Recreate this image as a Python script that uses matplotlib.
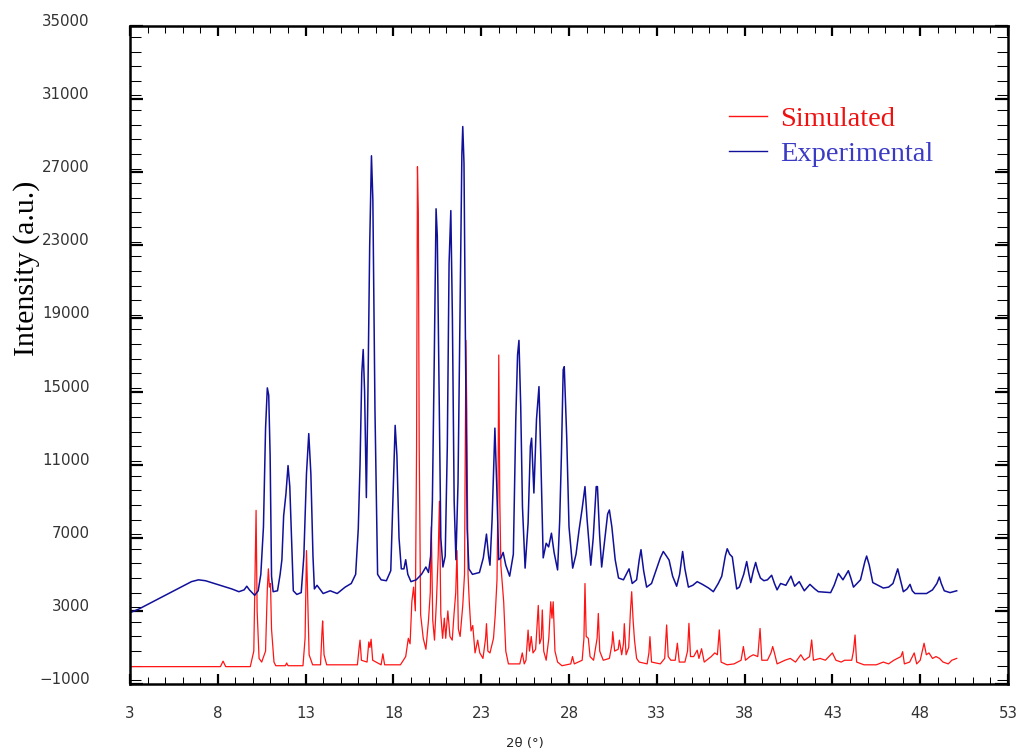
import matplotlib
matplotlib.use('Agg')
import matplotlib.pyplot as plt
from matplotlib.ticker import MultipleLocator

# simulated pattern (2theta in degrees, counts)
sim_2theta = [3.0, 8.15, 8.3, 8.45, 9.85, 10.05, 10.12, 10.18, 10.24, 10.35, 10.5, 10.72, 10.82, 10.88, 10.94, 11.0, 11.06,
              11.2, 11.3, 11.85, 11.92, 12.0, 12.85, 12.97, 13.05, 13.1, 13.2, 13.4, 13.85, 13.93, 13.97, 14.05, 14.2,
              15.95, 16.05, 16.1, 16.18, 16.5, 16.6, 16.66, 16.73, 16.82, 17.3, 17.4, 17.5, 18.4, 18.7, 18.85, 18.95,
              19.05, 19.15, 19.25, 19.32, 19.37, 19.42, 19.47, 19.55, 19.7, 19.85, 20.0, 20.1, 20.16, 20.24, 20.34,
              20.45, 20.55, 20.62, 20.7, 20.8, 20.9, 20.98, 21.1, 21.22, 21.35, 21.45, 21.55, 21.62, 21.7, 21.8, 21.95,
              22.05, 22.13, 22.18, 22.25, 22.32, 22.42, 22.52, 22.65, 22.8, 22.92, 23.1, 23.25, 23.3, 23.38, 23.5,
              23.7, 23.8, 23.9, 23.96, 24.0, 24.06, 24.12, 24.2, 24.28, 24.4, 24.55, 25.2, 25.34, 25.45, 25.55, 25.67,
              25.75, 25.85, 25.95, 26.1, 26.25, 26.33, 26.42, 26.48, 26.56, 26.7, 26.85, 26.96, 27.03, 27.1, 27.2,
              27.35, 27.6, 28.1, 28.2, 28.3, 28.75, 28.85, 28.91, 28.98, 29.1, 29.2, 29.4, 29.6, 29.67, 29.75, 29.95,
              30.3, 30.45, 30.49, 30.6, 30.8, 30.87, 31.0, 31.1, 31.15, 31.25, 31.4, 31.5, 31.57, 31.65, 31.73, 31.85,
              32.0, 32.45, 32.55, 32.61, 32.7, 33.2, 33.45, 33.56, 33.65, 33.8, 34.05, 34.17, 34.28, 34.6, 34.75,
              34.83, 34.92, 35.1, 35.3, 35.4, 35.55, 35.7, 36.1, 36.3, 36.45, 36.56, 36.66, 37.0, 37.4, 37.8, 37.93,
              38.05, 38.3, 38.5, 38.75, 38.88, 38.98, 39.3, 39.5, 39.6, 39.7, 39.85, 40.3, 40.6, 40.9, 41.2, 41.4,
              41.7, 41.82, 41.92, 42.3, 42.6, 43.0, 43.2, 43.5, 43.7, 44.1, 44.2, 44.29, 44.38, 44.8, 45.5, 45.9,
              46.2, 46.5, 46.9, 47.0, 47.1, 47.4, 47.66, 47.8, 48.0, 48.22, 48.35, 48.5, 48.7, 48.9, 49.1, 49.3,
              49.6, 49.8, 50.08]
sim_counts = [-50, -50, 250, -50, -50, 800, 5000, 8500, 3000, 400, 200, 800, 4200, 5300, 4300, 4500, 2000,
              200, 0, 0, 150, 0, 0, 1500, 6300, 4500, 600, 50, 50, 1800, 2450, 600, 50,
              50, 1000, 1400, 300, 200, 1300, 1000, 1450, 300, 50, 650, 50, 50, 500, 1500, 1200,
              3500, 4300, 3000, 12000, 27300, 24800, 12000, 2800, 1500, 900, 2500, 4000, 7600, 2500, 1400,
              3500, 6000, 9000, 2800, 1500, 2600, 1500, 3000, 1600, 1400, 2800, 4000, 6300, 2000, 1600, 3300,
              5000, 17800, 13800, 5000, 3500, 1900, 2200, 700, 1400, 700, 400, 1500, 2300, 800, 700,
              1500, 2800, 4700, 10000, 17000, 9000, 5500, 4500, 3500, 800, 100, 100, 700, 100, 300, 1950,
              800, 1600, 700, 900, 3300, 1200, 1500, 3050, 800, 300, 1500, 3500, 2600, 3500, 800,
              200, 0, 100, 500, 100, 300, 1500, 4500, 1600, 1500, 500, 300, 1500, 2860, 800, 300,
              400, 1200, 1860, 800, 900, 1400, 600, 1200, 2300, 600, 1000, 3000, 4050, 2500, 1400, 400,
              200, 100, 700, 1590, 200, 100, 400, 2230, 500, 300, 300, 1230, 200, 200, 800,
              2320, 500, 500, 850, 400, 930, 200, 500, 700, 600, 1960, 200, 50, 100, 300, 1050,
              300, 500, 600, 500, 2040, 300, 300, 700, 1050, 700, 100, 300, 400, 200, 600, 300,
              500, 1410, 300, 400, 300, 700, 300, 200, 300, 300, 800, 1680, 200, 50, 50, 200,
              100, 300, 500, 770, 100, 200, 700, 100, 300, 1230, 600, 700, 400, 500, 400, 200,
              100, 300, 400]

# measured pattern
exp_2theta = [3.0, 3.5, 4.0, 4.5, 5.0, 5.5, 6.0, 6.5, 6.9, 7.3, 7.8, 8.3, 8.8, 9.2, 9.5, 9.65, 9.8, 10.1, 10.3,
              10.45, 10.6, 10.72, 10.82, 10.9, 10.98, 11.06, 11.15, 11.4, 11.55, 11.65, 11.75, 11.88, 12.0, 12.1,
              12.2, 12.3, 12.5, 12.75, 12.9, 13.05, 13.18, 13.3, 13.42, 13.5, 13.65, 14.0, 14.4, 14.8, 15.25, 15.6,
              15.85, 16.0, 16.1, 16.2, 16.28, 16.36, 16.46, 16.55, 16.65, 16.75, 16.83, 16.95, 17.1, 17.3, 17.6,
              17.85, 17.97, 18.1, 18.2, 18.32, 18.45, 18.6, 18.7, 18.82, 19.0, 19.3, 19.6, 19.85, 20.0, 20.12,
              20.22, 20.33, 20.43, 20.5, 20.6, 20.7, 20.82, 20.95, 21.07, 21.17, 21.27, 21.36, 21.46, 21.56, 21.68,
              21.8, 21.9, 21.95, 22.02, 22.1, 22.2, 22.3, 22.5, 22.9, 23.12, 23.3, 23.42, 23.5, 23.62, 23.78, 23.88,
              24.0, 24.12, 24.25, 24.4, 24.62, 24.83, 24.97, 25.07, 25.15, 25.25, 25.35, 25.5, 25.67, 25.8, 25.87,
              26.0, 26.15, 26.29, 26.4, 26.53, 26.7, 26.84, 27.0, 27.15, 27.35, 27.47, 27.57, 27.67, 27.73, 27.87,
              28.0, 28.21, 28.4, 28.57, 28.75, 28.91, 29.03, 29.24, 29.38, 29.55, 29.62, 29.74, 29.86, 30.05, 30.2,
              30.3, 30.44, 30.63, 30.82, 31.1, 31.42, 31.6, 31.85, 32.0, 32.1, 32.25, 32.42, 32.7, 33.0, 33.2,
              33.37, 33.55, 33.7, 33.9, 34.13, 34.3, 34.47, 34.6, 34.8, 35.05, 35.3, 35.6, 35.95, 36.22, 36.5,
              36.7, 36.9, 37.01, 37.15, 37.3, 37.55, 37.7, 37.95, 38.12, 38.25, 38.35, 38.5, 38.63, 38.75, 38.9,
              39.1, 39.3, 39.54, 39.7, 39.85, 40.05, 40.35, 40.64, 40.85, 41.11, 41.4, 41.72, 42.0, 42.2, 42.9,
              43.1, 43.34, 43.6, 43.91, 44.05, 44.2, 44.6, 44.85, 44.95, 45.1, 45.3, 45.6, 45.9, 46.2, 46.45,
              46.72, 46.85, 47.04, 47.25, 47.42, 47.55, 47.7, 48.36, 48.7, 48.95, 49.09, 49.2, 49.37, 49.7, 50.08]
exp_counts = [2900, 3100, 3350, 3600, 3850, 4100, 4350, 4600, 4700, 4650, 4500, 4350, 4200, 4050, 4150, 4350, 4150,
              3850, 4100, 5000, 7600, 13000, 15200, 14800, 11500, 4900, 4050, 4100, 5000, 5800, 8200, 9400, 10950,
              9800, 7000, 4100, 3900, 4000, 6000, 10500, 12700, 10500, 6000, 4200, 4400, 3950, 4100, 3950, 4300,
              4500, 5000, 7500, 11000, 16000, 17300, 15000, 9200, 15000, 23000, 27900, 25500, 14000, 5000, 4700,
              4650, 5200, 9000, 13150, 11500, 7000, 5300, 5300, 5800, 5000, 4600, 4700, 5000, 5400, 5100, 6000,
              9000, 17000, 25000, 23500, 15000, 7000, 5400, 6000, 12000, 22000, 24900, 19000, 9000, 5800, 10000,
              20000, 28000, 29500, 27500, 18000, 7500, 5300, 5000, 5100, 5900, 7200, 6000, 5500, 8000, 13000, 10000,
              5800, 5900, 6200, 5500, 4900, 6100, 13500, 17000, 17800, 14200, 8700, 5340, 7800, 12000, 12450,
              9450, 13500, 15270, 11200, 5900, 6700, 6500, 7250, 6200, 5240, 7950, 11600, 16200, 16360, 12500,
              7600, 5340, 6100, 7400, 8600, 9800, 8000, 5500, 7000, 9800, 9800, 7200, 5400, 7000, 8300,
              8520, 7600, 5800, 4800, 4700, 5300, 4500, 4700, 5800, 6350, 5200, 4300, 4500, 5350, 5900,
              6250, 6000, 5780, 4900, 4350, 5000, 6250, 5300, 4300, 4400, 4600, 4450, 4250, 4050, 4500,
              4900, 6000, 6400, 6100, 5950, 4200, 4300, 5000, 5700, 5000, 4550, 5200, 5650, 5200, 4800,
              4650, 4700, 4950, 4500, 4150, 4500, 4400, 4900, 4350, 4600, 4100, 4450, 4200, 4050, 4000,
              4400, 5050, 4700, 5200, 4800, 4300, 4700, 5700, 6000, 5500, 4550, 4400, 4250, 4300, 4500,
              5300, 4800, 4050, 4200, 4450, 4100, 3950, 3950, 4150, 4500, 4850, 4500, 4100, 4000, 4100]

x_ticks = list(range(3, 54, 5))
y_ticks = list(range(-1000, 35001, 4000))

fig = plt.figure(figsize=(10.22, 7.53), dpi=100)
ax = fig.add_axes([130 / 1022, 69 / 753, 878 / 1022, 658 / 753])

ax.plot(sim_2theta, sim_counts, color='#ff1414', lw=0.9, label='Simulated')
ax.plot(exp_2theta, exp_counts, color='#10109a', lw=1.1, label='Experimental')

ax.set_xlim(3, 53)
ax.set_ylim(-1000, 35000)

ax.set_xticks(x_ticks)
ax.set_yticks(y_ticks)
ax.set_xticklabels([str(v) for v in x_ticks])
ax.set_yticklabels(['\u22121000' if v < 0 else str(v) for v in y_ticks], va='baseline')
ax.xaxis.set_minor_locator(MultipleLocator(1))
ax.yaxis.set_minor_locator(MultipleLocator(800))

ax.tick_params(axis='both', which='both', direction='in', top=True, right=True,
               labelcolor='#333333', labelsize=10.8)
ax.tick_params(axis='x', which='major', length=7.2, width=1.6, pad=16)
ax.tick_params(axis='x', which='minor', length=5, width=0.75)
ax.tick_params(axis='y', which='major', length=9.4, width=1.6, pad=29)
ax.tick_params(axis='y', which='minor', length=8, width=0.75)
for side in ax.spines.values():
    side.set_linewidth(1.8)

fig.text(27 / 1022, 1 - 268 / 753, 'Intensity (a.u.)', rotation=90, ha='center', va='center',
         family='Liberation Serif', fontsize=21.5)
fig.text(525 / 1022, 1 - 743 / 753, '2\u03b8 (\u00b0)', ha='center', va='center', fontsize=9.5, color='#222222')

leg = ax.legend(loc='upper left', bbox_to_anchor=(729 / 1022, 1 - 106 / 753), bbox_transform=fig.transFigure,
                frameon=False, borderpad=0, borderaxespad=0, handlelength=1.33, handletextpad=0.46,
                labelspacing=0.31, prop={'family': 'Liberation Serif', 'size': 20.5},
                labelcolor=['#ee1111', '#3a3ac4'])
for line in leg.get_lines():
    line.set_linewidth(1.0)

fig.savefig('out.png', dpi=100)
